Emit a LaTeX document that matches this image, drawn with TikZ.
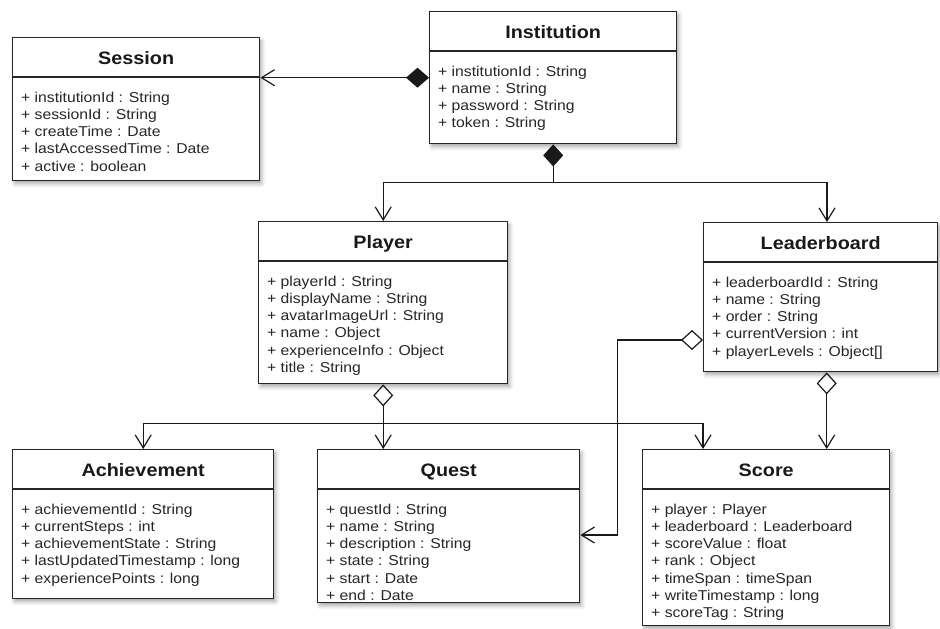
\documentclass[tikz,border=0pt]{standalone}
\usepackage{fontspec}
\setmainfont{Liberation Sans}[FakeStretch=1.1]
\usetikzlibrary{arrows.meta,shadows.blur}
\newcommand\umlclass[7]{%
  \node[umlbox, minimum width=#4pt, minimum height=#5pt] (#1) at (#2,#3) {};
  \draw[boxline] ([yshift=-40pt]#1.north west) -- ([yshift=-40pt]#1.north east);
  \node[titletext] (#1-title) at ([yshift=-27pt]#1.north) {#6};
  \foreach \t [count=\i, evaluate=\i as \yy using -65-(\i-1)*17.3] in {#7}
    {\node[attrtext] (#1-a\i) at ([xshift=9pt,yshift=\yy pt]#1.north west) {\t};}
}
\begin{document}
\begin{tikzpicture}[x=1pt,y=-1pt,
  umlbox/.style={draw=black!85, line width=1.4pt, fill=white, inner sep=0pt, anchor=north west,
    blur shadow={shadow xshift=2pt,shadow yshift=-3pt,shadow blur radius=4pt,shadow opacity=35}},
  boxline/.style={line width=1.4pt, draw=black!85},
  titletext/.style={font=\bfseries\fontsize{18}{20}\selectfont, anchor=base, inner sep=0pt, text=black!90},
  attrtext/.style={font=\fontsize{14.3}{16}\selectfont, anchor=base west, inner sep=0pt, text=black!85},
  conn/.style={line width=1.2pt, draw=black!90},
  barb/.style={-{Straight Barb[length=13pt,width=16pt]}},
  compbarb/.style={{Diamond[length=23pt,width=20pt]}-{Straight Barb[length=13pt,width=16pt]}},
  comp/.style={{Diamond[length=22pt,width=20pt]}-},
  agg/.style={{Diamond[open,length=22pt,width=20pt]}-},
  aggbarb/.style={{Diamond[open,length=22pt,width=20pt]}-{Straight Barb[length=13pt,width=16pt]}}
]
\useasboundingbox (0,0) rectangle (940,629);

\umlclass{session}{12}{37}{247}{143}{Session}{+ institutionId : String,+ sessionId : String,+ createTime : Date,+ lastAccessedTime : Date,+ active : boolean}
\umlclass{institution}{429}{11}{247}{132}{Institution}{+ institutionId : String,+ name : String,+ password : String,+ token : String}
\umlclass{player}{258}{221}{249}{162}{Player}{+ playerId : String,+ displayName : String,+ avatarImageUrl : String,+ name : Object,+ experienceInfo : Object,+ title : String}
\umlclass{leader}{703}{222}{234}{149}{Leaderboard}{+ leaderboardId : String,+ name : String,+ order : String,+ currentVersion : int,+ playerLevels : Object[]}
\umlclass{achieve}{12}{449}{261}{149}{Achievement}{+ achievementId : String,+ currentSteps : int,+ achievementState : String,+ lastUpdatedTimestamp : long,+ experiencePoints : long}
\umlclass{quest}{317}{449}{262}{153}{Quest}{+ questId : String,+ name : String,+ description : String,+ state : String,+ start : Date,+ end : Date}
\umlclass{score}{642}{449}{247}{176}{Score}{+ player : Player,+ leaderboard : Leaderboard,+ scoreValue : float,+ rank : Object,+ timeSpan : timeSpan,+ writeTimestamp : long,+ scoreTag : String}

% Institution -> Session
\draw[conn, compbarb] (institution.west) -- (institution.west -| session.east);

% Institution -> Player, Leaderboard
\coordinate (j1) at ([yshift=-38pt]institution.south);
\coordinate (lbtop) at ([xshift=124pt]leader.north west);
\draw[conn, comp] (institution.south) -- (j1);
\draw[conn, barb] (j1) -| (player.north);
\draw[conn, barb] (j1) -| (lbtop);

% Player -> Achievement, Quest, Score
\coordinate (j2) at ([yshift=-39pt]player.south);
\coordinate (sctop) at ([xshift=61pt]score.north west);
\draw[conn, agg] (player.south) -- (j2);
\draw[conn, barb] (j2) -| (achieve.north);
\draw[conn, barb] (j2) -- (j2 |- quest.north);
\draw[conn, barb] (j2) -| (sctop);

% Leaderboard -> Quest
\coordinate (lbw) at ([yshift=-118pt]leader.north west);
\coordinate (qe) at ([yshift=-86pt]quest.north east);
\coordinate (qbend) at ([xshift=37pt]qe);
\draw[conn, aggbarb] (lbw) -| (qbend) -- (qe);

% Leaderboard -> Score
\coordinate (lbs) at ([xshift=6pt]leader.south);
\draw[conn, aggbarb] (lbs) -- (lbs |- score.north);
\end{tikzpicture}
\end{document}
